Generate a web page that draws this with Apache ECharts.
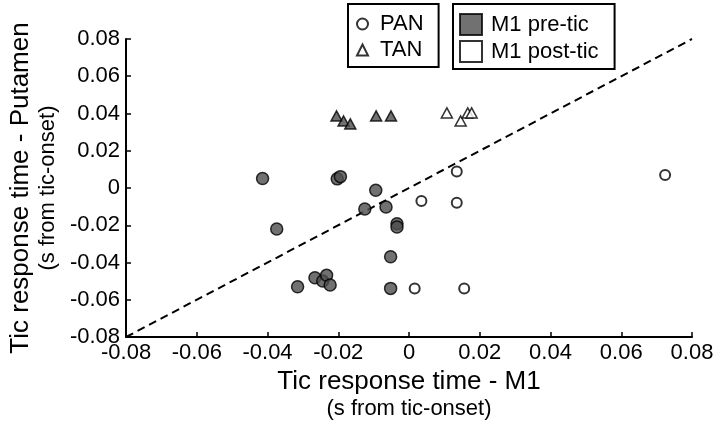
<!DOCTYPE html>
<html>
<head>
<meta charset="utf-8">
<script src="https://cdn.jsdelivr.net/npm/echarts@6/dist/echarts.min.js"></script>
<style>
html,body{margin:0;padding:0;background:#fff;}
#chart{width:720px;height:425px;}
</style>
</head>
<body>
<div id="chart"></div>
<script>
// Axis ticks
const axisMin = -0.08;
const axisMax = 0.08;
const axisStep = 0.02;

// PAN, M1 pre-tic (filled circles)
const panPreX = [-0.0414, -0.0374, -0.0315, -0.0266, -0.0244, -0.0233, -0.0223, -0.0203, -0.0194, -0.0094, -0.0125, -0.0065, -0.0034, -0.0034, -0.0052, -0.0052];
const panPreY = [0.0051, -0.0220, -0.0530, -0.0482, -0.0499, -0.0469, -0.0521, 0.0049, 0.0061, -0.0012, -0.0113, -0.0102, -0.0192, -0.0209, -0.0369, -0.0539];

// PAN, M1 post-tic (open circles)
const panPostX = [0.0135, 0.0035, 0.0135, 0.0016, 0.0156, 0.0724];
const panPostY = [0.0088, -0.0070, -0.0079, -0.0539, -0.0539, 0.0070];

// TAN, M1 pre-tic (filled triangles)
const tanPreX = [-0.0205, -0.0185, -0.0166, -0.0093, -0.0051];
const tanPreY = [0.0387, 0.0360, 0.0344, 0.0387, 0.0387];

// TAN, M1 post-tic (open triangles)
const tanPostX = [0.0107, 0.0146, 0.0166, 0.0177];
const tanPostY = [0.0403, 0.0360, 0.0403, 0.0403];

// Identity line
const diagX = [-0.08, 0.08];
const diagY = [-0.08, 0.08];

const xTitle = 'Tic response time - M1';
const yTitle = 'Tic response time - Putamen';
const unitTitle = '(s from tic-onset)';

const legendShape = ['PAN', 'TAN'];
const legendFill = ['M1 pre-tic', 'M1 post-tic'];

const FONT = "'Liberation Sans', Arial, Helvetica, sans-serif";
const FILL = '#4d4d4d';

function zip(xs, ys) { return xs.map((x, i) => [x, ys[i]]); }
function fmt(v) { return Math.abs(v) < 1e-9 ? '0' : v.toFixed(2); }

function axisCommon() {
  return {
    type: 'value',
    min: axisMin,
    max: axisMax,
    interval: axisStep,
    splitLine: { show: false },
    axisLine: { show: true, onZero: false, lineStyle: { color: '#000', width: 2 } },
    axisTick: { show: true, inside: true, length: 5, lineStyle: { color: '#000', width: 1.5 } },
    axisLabel: { color: '#000', fontFamily: FONT, fontSize: 22, formatter: fmt, showMinLabel: true, showMaxLabel: true, hideOverlap: false },
    nameLocation: 'middle',
    nameTextStyle: {
      color: '#000',
      fontFamily: FONT,
      rich: {
        a: { fontSize: 26, fontFamily: FONT, color: '#000', lineHeight: 28 },
        b: { fontSize: 22, fontFamily: FONT, color: '#000', lineHeight: 26 }
      }
    }
  };
}

const chart = echarts.init(document.getElementById('chart'), null, { renderer: 'canvas' });

const xAxis = Object.assign(axisCommon(), {
  name: '{a|' + xTitle + '}\n{b|' + unitTitle + '}',
  nameGap: 30
});
xAxis.axisLabel.margin = 5;

const yAxis = Object.assign(axisCommon(), {
  name: '{a|' + yTitle + '}\n{b|' + unitTitle + '}',
  nameRotate: 90,
  nameGap: 64
});
yAxis.axisLabel.margin = 6;

const option = {
  backgroundColor: '#fff',
  animation: false,
  grid: { left: 118, right: 28, top: 39, bottom: 88, containLabel: false },
  xAxis: xAxis,
  yAxis: yAxis,
  legend: [
    {
      data: [{ name: legendShape[0], icon: 'circle' }, { name: legendShape[1], icon: 'triangle' }],
      orient: 'vertical',
      left: 348,
      top: 4,
      padding: [9, 15, 6, 8],
      itemGap: 4,
      itemWidth: 11,
      itemHeight: 11,
      borderColor: '#000',
      borderWidth: 2,
      selectedMode: false,
      textStyle: { color: '#000', fontFamily: FONT, fontSize: 22, lineHeight: 22, padding: [0, 0, 0, 7] }
    },
    {
      data: [{ name: legendFill[0], icon: 'rect' }, { name: legendFill[1], icon: 'rect' }],
      orient: 'vertical',
      left: 453,
      top: 4,
      padding: [9, 16, 6, 6],
      itemGap: 4,
      itemWidth: 22,
      itemHeight: 21,
      borderColor: '#000',
      borderWidth: 2,
      selectedMode: false,
      textStyle: { color: '#000', fontFamily: FONT, fontSize: 22, lineHeight: 22, padding: [0, 0, 0, 4] }
    }
  ],
  series: [
    {
      type: 'line',
      data: zip(diagX, diagY),
      symbol: 'none',
      silent: true,
      z: 1,
      lineStyle: { color: '#000', width: 2, type: [8, 5] }
    },
    {
      name: 'PAN pre', type: 'scatter', symbol: 'circle', symbolSize: 12, z: 3,
      data: zip(panPreX, panPreY),
      itemStyle: { color: FILL, borderColor: '#000', borderWidth: 1.5 }
    },
    {
      name: 'PAN post', type: 'scatter', symbol: 'circle', symbolSize: 10, z: 3,
      data: zip(panPostX, panPostY),
      itemStyle: { color: '#fff', borderColor: '#000', borderWidth: 2 }
    },
    {
      name: 'TAN pre', type: 'scatter', symbol: 'triangle', symbolSize: [11, 10], z: 3,
      data: zip(tanPreX, tanPreY),
      itemStyle: { color: FILL, borderColor: '#000', borderWidth: 1.5 }
    },
    {
      name: 'TAN post', type: 'scatter', symbol: 'triangle', symbolSize: [11, 10], z: 3,
      data: zip(tanPostX, tanPostY),
      itemStyle: { color: '#fff', borderColor: '#000', borderWidth: 1.5 }
    },
    // legend-only series
    { name: legendShape[0], type: 'scatter', data: [], itemStyle: { color: '#fff', borderColor: '#000', borderWidth: 2 } },
    { name: legendShape[1], type: 'scatter', data: [], symbol: 'triangle', itemStyle: { color: '#fff', borderColor: '#000', borderWidth: 2 } },
    { name: legendFill[0], type: 'scatter', data: [], itemStyle: { color: FILL, borderColor: '#000', borderWidth: 2 } },
    { name: legendFill[1], type: 'scatter', data: [], itemStyle: { color: '#fff', borderColor: '#000', borderWidth: 2 } }
  ]
};

chart.setOption(option);
</script>
</body>
</html>
